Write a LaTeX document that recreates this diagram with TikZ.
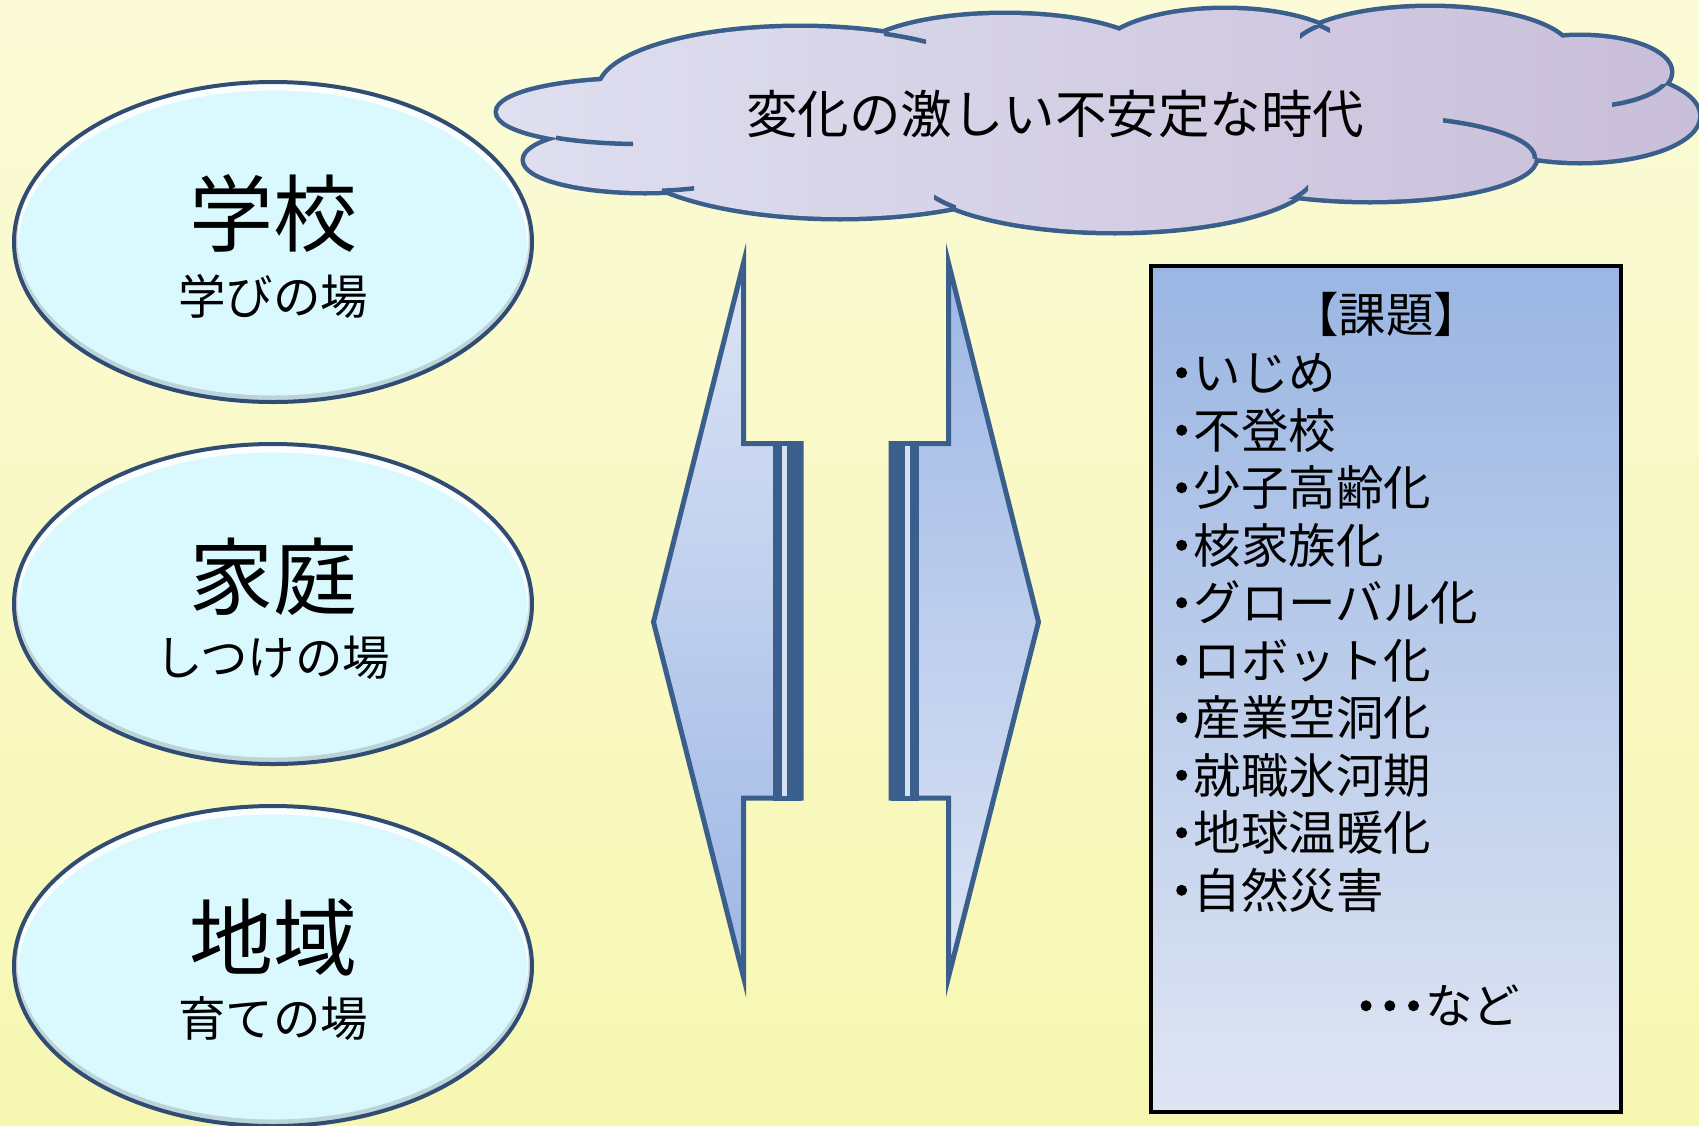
\documentclass[tikz,border=0pt]{standalone}
\usepackage{fontspec}
\setmainfont{Noto Sans CJK JP}
\newfontfamily\dotfont[FakeBold=6]{Noto Sans CJK JP}
\usetikzlibrary{calc}
\definecolor{bgtop}{RGB}{251,251,216}
\definecolor{bgbot}{RGB}{247,247,178}
\definecolor{lineblue}{RGB}{58,95,140}
\definecolor{cloudA}{RGB}{223,223,240}
\definecolor{cloudB}{RGB}{201,190,217}
\definecolor{ellfill}{RGB}{217,249,255}
\definecolor{ellline}{RGB}{48,76,114}
\definecolor{arrlight}{RGB}{220,228,245}
\definecolor{arrdark}{RGB}{158,183,229}
\definecolor{strip}{RGB}{214,224,243}
\definecolor{boxtop}{RGB}{154,182,227}
\definecolor{boxbot}{RGB}{223,229,243}
\newcommand\bdot{{\dotfont ･}}
\tikzset{
  cloudedge/.style={draw=lineblue, line width=9},
  cloudtail/.style={draw=lineblue, line width=4.5},
  arrowshape/.style={draw=lineblue, line width=5, line join=miter, miter limit=12},
  bar/.style={fill=lineblue, draw=none},
  ellborder/.style={draw=ellline, line width=4},
  bigtxt/.style={font=\fontsize{84}{90}\selectfont, inner sep=0pt, text height=67pt, text depth=4pt},
  midtxt/.style={font=\fontsize{47.5}{57}\selectfont, inner sep=0pt, text height=38pt, text depth=2.4pt},
  cloudtxt/.style={font=\fontsize{51.5}{60}\selectfont, inner sep=0pt, text height=41pt, text depth=2.6pt},
  listtxt/.style={midtxt, anchor=west},
}
\begin{document}
\begin{tikzpicture}[x=1pt,y=-1pt]
\useasboundingbox (0,0) rectangle (1699,1125);
\shade[top color=bgtop, bottom color=bgbot] (0,0) rectangle (1699,1125);

% ---------- ellipses ----------
\foreach \cy in {242,604,966}{
  \begin{scope}
    \clip (273,\cy) ellipse [x radius=259, y radius=160];
    \fill[ellfill] (273,\cy) ellipse [x radius=259, y radius=160];
    \draw[white, line width=9, opacity=0.9] (273,\cy+4) ellipse [x radius=259, y radius=160];
    \draw[black!60, line width=7, opacity=0.25] (273,\cy-3) ellipse [x radius=259, y radius=160];
  \end{scope}
  \draw[ellborder] (273,\cy) ellipse [x radius=259, y radius=160];
}
\node[bigtxt] (t1) at (273,214) {学校};
\node[midtxt] (s1) at (273,297) {学びの場};
\node[bigtxt] (t2) at (273,577) {家庭};
\node[midtxt] (s2) at (273,658) {しつけの場};
\node[bigtxt] (t3) at (273,938) {地域};
\node[midtxt] (s3) at (273,1019) {育ての場};

% ---------- cloud ----------
\draw[cloudedge]
  (800,90) ellipse [x radius=200, y radius=62]
  (640,112) ellipse [x radius=142, y radius=32]
  (645,160) ellipse [x radius=120, y radius=31]
  (840,147) ellipse [x radius=220, y radius=70]
  (1005,60) ellipse [x radius=150, y radius=45]
  (1225,55) ellipse [x radius=125, y radius=45]
  (1430,53) ellipse [x radius=140, y radius=45]
  (1580,72) ellipse [x radius=90, y radius=35]
  (1580,116) ellipse [x radius=118, y radius=45]
  (1370,158) ellipse [x radius=165, y radius=42]
  (1115,171) ellipse [x radius=201, y radius=60];
\shade[left color=cloudA, right color=cloudB]
  (800,90) ellipse [x radius=200, y radius=62]
  (640,112) ellipse [x radius=142, y radius=32]
  (645,160) ellipse [x radius=120, y radius=31]
  (840,147) ellipse [x radius=220, y radius=70]
  (1005,60) ellipse [x radius=150, y radius=45]
  (1225,55) ellipse [x radius=125, y radius=45]
  (1430,53) ellipse [x radius=140, y radius=45]
  (1580,72) ellipse [x radius=90, y radius=35]
  (1580,116) ellipse [x radius=118, y radius=45]
  (1370,158) ellipse [x radius=165, y radius=42]
  (1115,171) ellipse [x radius=201, y radius=60]
  (1100,118) ellipse [x radius=440, y radius=75];
% inner tails
\begin{scope}\clip (884,18) rectangle (926,50);
  \draw[cloudtail] (800,90) ellipse [x radius=200, y radius=62];\end{scope}
\begin{scope}\clip (556,128) rectangle (633,152);
  \draw[cloudtail] (640,112) ellipse [x radius=142, y radius=32];\end{scope}
\begin{scope}\clip (662,180) rectangle (694,200);
  \draw[cloudtail] (645,160) ellipse [x radius=120, y radius=31];\end{scope}
\begin{scope}\clip (934,190) rectangle (956,212);
  \draw[cloudtail] (1115,171) ellipse [x radius=201, y radius=60];\end{scope}
\begin{scope}\clip (1285,180) rectangle (1308,198);
  \draw[cloudtail] (1115,171) ellipse [x radius=201, y radius=60];\end{scope}
\begin{scope}\clip (1443,110) rectangle (1540,158);
  \draw[cloudtail] (1370,158) ellipse [x radius=165, y radius=42];\end{scope}
\begin{scope}\clip (1612,84) rectangle (1666,110);
  \draw[cloudtail] (1580,72) ellipse [x radius=90, y radius=35];\end{scope}
\begin{scope}\clip (1300,25) rectangle (1322,40);
  \draw[cloudtail] (1430,53) ellipse [x radius=140, y radius=45];\end{scope}
\begin{scope}\clip (1318,15) rectangle (1330,32);
  \draw[cloudtail] (1225,55) ellipse [x radius=125, y radius=45];\end{scope}
\node[cloudtxt] (era) at (1055,114) {変化の激しい不安定な時代};

% ---------- arrows ----------
\shade[top color=arrlight, bottom color=arrdark, arrowshape]
  (743.5,263) -- (743.5,443.5) -- (801,443.5) -- (801,798) -- (743.5,798)
  -- (743.5,977) -- (653.5,622) -- cycle;
\fill[bar] (773,441) rectangle (801,800.5);
\fill[strip] (782,446) rectangle (787,795.5);
\shade[top color=arrdark, bottom color=arrlight, arrowshape]
  (948.5,263) -- (948.5,443.5) -- (891,443.5) -- (891,798) -- (948.5,798)
  -- (948.5,977) -- (1038.5,622) -- cycle;
\fill[bar] (891,441) rectangle (919,800.5);
\fill[strip] (905,446) rectangle (910,795.5);

% ---------- issue box ----------
\shade[top color=boxtop, bottom color=boxbot, draw=black, line width=4.5]
  (1151,266) rectangle (1621,1112);
\node[midtxt] (ttl) at (1386,315) {【課題】};
\node[listtxt] (i1) at (1169.6,373) {\bdot いじめ};
\node[listtxt] (i2) at (1169.6,430.5) {\bdot 不登校};
\node[listtxt] (i3) at (1169.6,488) {\bdot 少子高齢化};
\node[listtxt] (i4) at (1169.6,545.5) {\bdot 核家族化};
\node[listtxt] (i5) at (1169.6,603) {\bdot グローバル化};
\node[listtxt] (i6) at (1169.6,660.5) {\bdot ロボット化};
\node[listtxt] (i7) at (1169.6,718) {\bdot 産業空洞化};
\node[listtxt] (i8) at (1169.6,775.5) {\bdot 就職氷河期};
\node[listtxt] (i9) at (1169.6,833) {\bdot 地球温暖化};
\node[listtxt] (i10) at (1169.6,890.5) {\bdot 自然災害};
\node[listtxt] (etc) at (1354,1006) {\bdot\bdot\bdot など};
\end{tikzpicture}
\end{document}
